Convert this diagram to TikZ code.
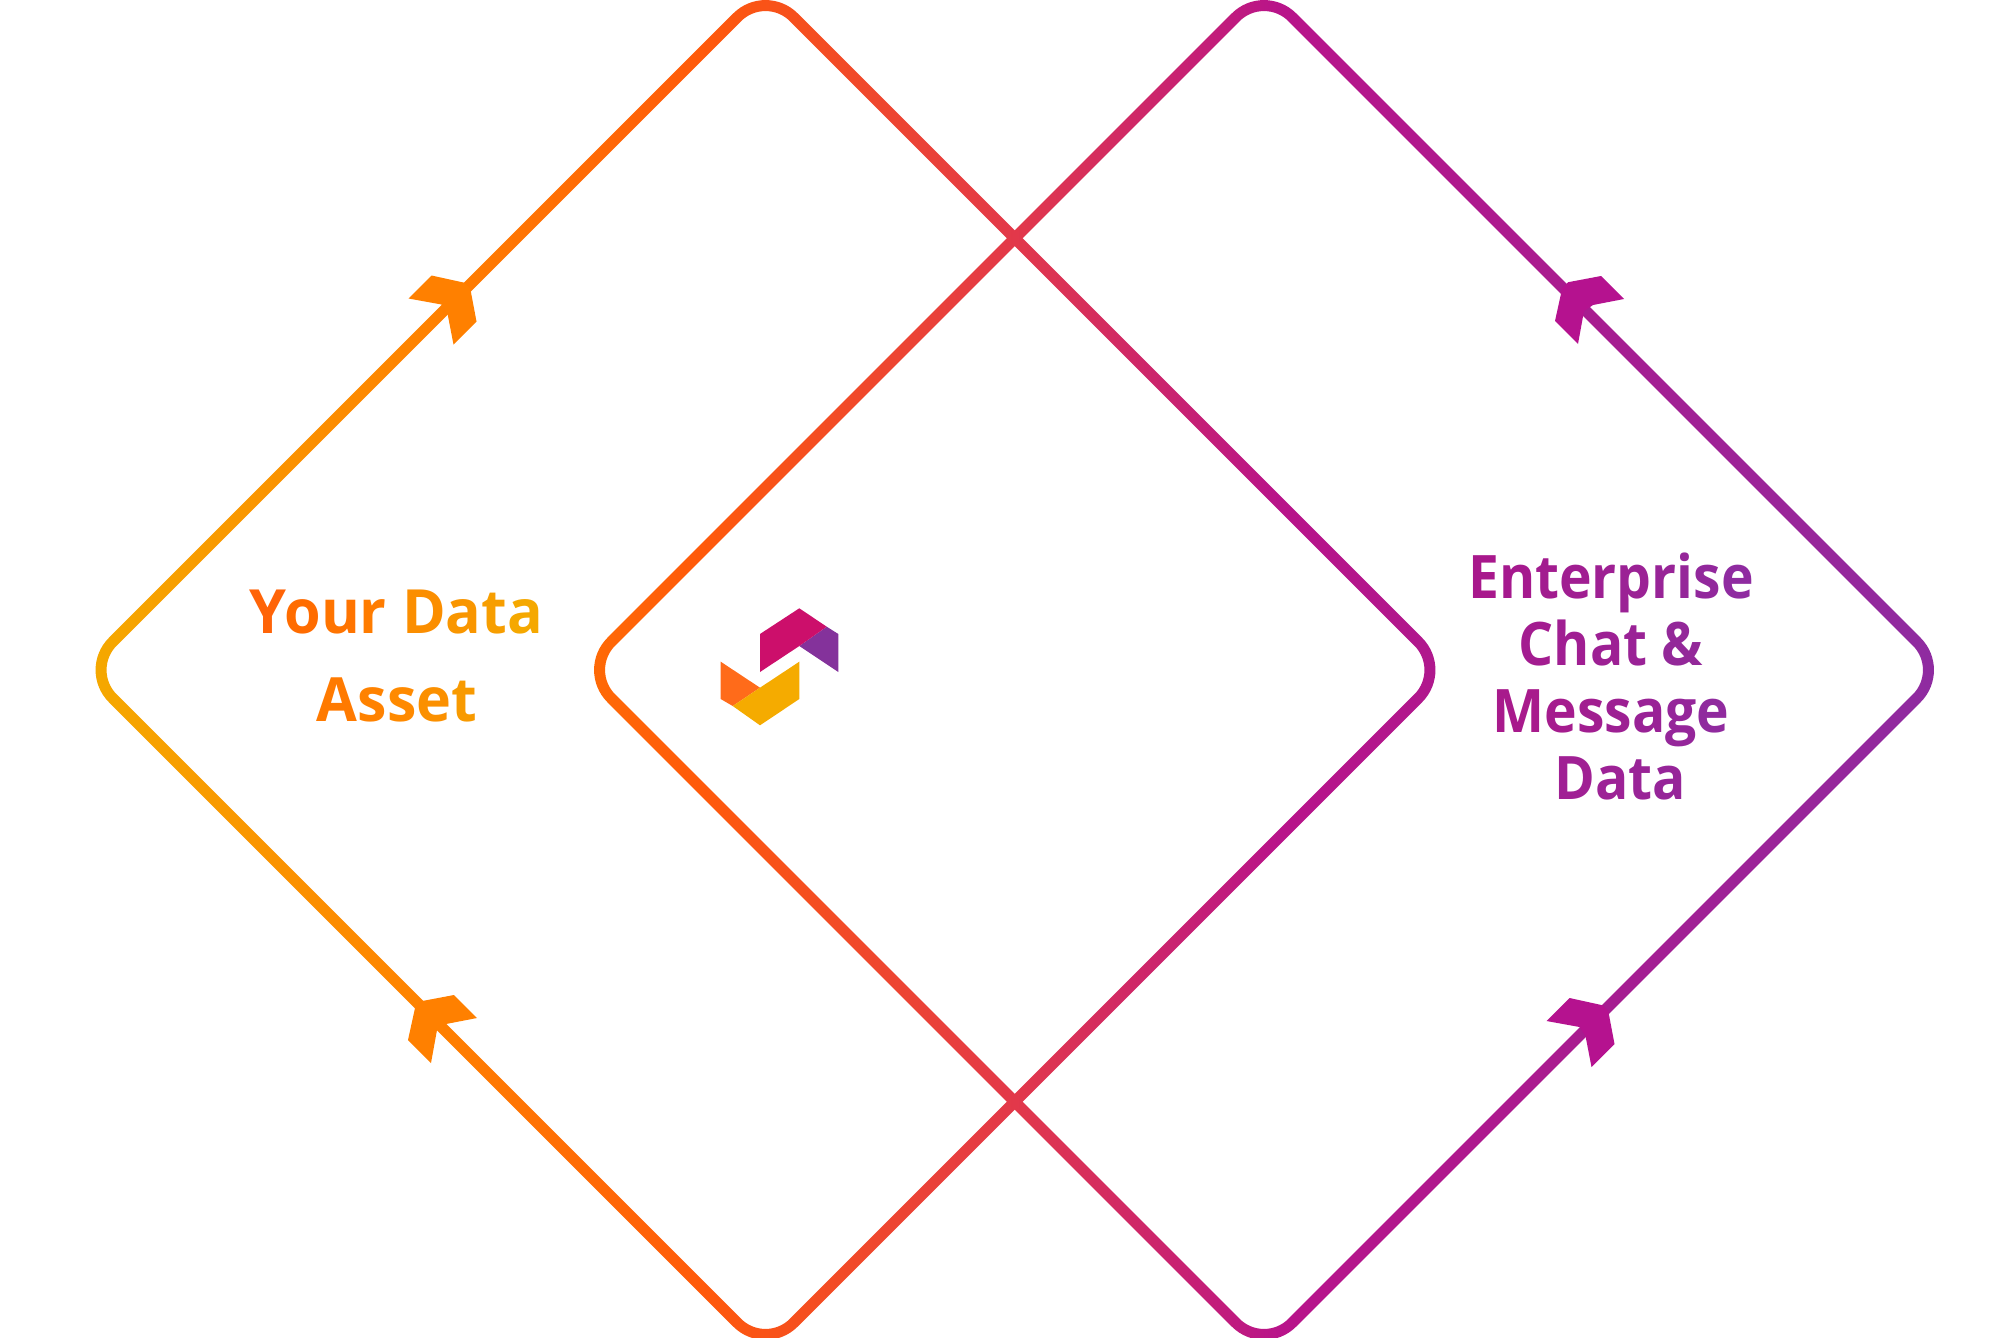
\documentclass[tikz,border=0pt]{standalone}
\usepackage{fontspec}
\setmainfont{Open Sans}[UprightFont=* Bold]
\newfontfamily\leftlabelfont{Open Sans Bold}[FakeStretch=0.97]
\newfontfamily\rightlabelfont{Open Sans Bold}[FakeStretch=0.92]
\definecolor{arrowOrange}{HTML}{FF8000}
\definecolor{arrowMagenta}{HTML}{B5128F}
\definecolor{logoPink}{HTML}{CC0F6B}
\definecolor{logoPurple}{HTML}{84329B}
\definecolor{logoOrange}{HTML}{FF6B1A}
\definecolor{logoYellow}{HTML}{F5AB00}
\definecolor{gA}{HTML}{F5A800}
\definecolor{gB}{HTML}{FF8000}
\definecolor{gC}{HTML}{FF5A0A}
\definecolor{gD}{HTML}{E2384A}
\definecolor{gE}{HTML}{B8148A}
\definecolor{gF}{HTML}{A81C90}
\definecolor{gG}{HTML}{8F2BA0}
\pgfdeclarehorizontalshading{ringgrad}{100bp}{
  color(0bp)=(gA);
  color(27.4bp)=(gA);
  color(36bp)=(gB);
  color(42.5bp)=(gC);
  color(50.4bp)=(gD);
  color(57bp)=(gE);
  color(64.8bp)=(gF);
  color(73.3bp)=(gG);
  color(100bp)=(gG)}
\newcommand{\lc}[2]{{\color[HTML]{#1}#2}}
% one closed loop: centre x, centre y, corner distance S, tangent offset a, control offset b
\newcommand{\ringloop}[5]{%
  (#1-#3+#4,#2-#4) .. controls (#1-#3+#5,#2-#5) and (#1-#3+#5,#2+#5) .. (#1-#3+#4,#2+#4)
  -- (#1-#4,#2+#3-#4) .. controls (#1-#5,#2+#3-#5) and (#1+#5,#2+#3-#5) .. (#1+#4,#2+#3-#4)
  -- (#1+#3-#4,#2+#4) .. controls (#1+#3-#5,#2+#5) and (#1+#3-#5,#2-#5) .. (#1+#3-#4,#2-#4)
  -- (#1+#4,#2-#3+#4) .. controls (#1+#5,#2-#3+#5) and (#1-#5,#2-#3+#5) .. (#1-#4,#2-#3+#4)
  -- cycle}
\tikzset{
  lbl/.style={inner sep=0pt,anchor=base,font=\fontsize{30.5}{31}\selectfont},
  lbll/.style={lbl,font=\fontsize{30.5}{31}\leftlabelfont},
  lblr/.style={lbl,font=\fontsize{30}{31}\rightlabelfont},
  pics/chevron/.style={code={
    \fill[#1] (-4.2,-1.8) -- (1.8,4.2) -- (8,37) -- (-15,60) -- (-21,29) -- (-27,20) -- (-60,14) -- (-37,-9) -- cycle;}}
}
\begin{document}
\begin{tikzpicture}[x=0.5pt,y=-0.5pt]
\useasboundingbox (0,0) rectangle (1998,1338);
\fill[white] (0,0) rectangle (1998,1338);
% left ring: outer radius 45.5, inner radius 34.5 (px)
\begin{scope}[even odd rule]
  \clip \ringloop{765.5}{670}{688.78}{32.17}{14.40} \ringloop{765.5}{670}{673.22}{24.40}{10.92};
  \shade[shading=ringgrad,shading angle=0] (0,0) rectangle (1998,1338);
\end{scope}
% right ring
\begin{scope}[even odd rule]
  \clip \ringloop{1264}{670}{688.78}{32.17}{14.40} \ringloop{1264}{670}{673.22}{24.40}{10.92};
  \shade[shading=ringgrad,shading angle=0] (0,0) rectangle (1998,1338);
\end{scope}
% arrowheads
\pic at (468.5,284.5) {chevron=arrowOrange};
\pic[rotate=90] at (417,1003) {chevron=arrowOrange};
\pic[rotate=90] at (1564,284) {chevron=arrowMagenta};
\pic at (1606.5,1007) {chevron=arrowMagenta};
% logo
\fill[logoPurple] (826.7,626.7) -- (838.3,634) -- (838.3,672) -- (799.3,646) -- cycle;
\fill[logoPink] (760,634) -- (799.3,608.3) -- (826.7,626.7) -- (799.3,646) -- (760,672) -- cycle;
\fill[logoOrange] (720.7,661.7) -- (760,687.7) -- (732.7,706) -- (720.7,699) -- cycle;
\fill[logoYellow] (760,687.7) -- (799.3,661.7) -- (799.3,699) -- (760,725.3) -- (732.7,706) -- cycle;
% labels
\node[lbll] (yourdata) at (396.5,633) {\lc{FF6408}{Y}\kern-.04em\lc{FF6C00}{o}\lc{FF7400}{u}\lc{FF7C00}{r} \lc{FB8E00}{D}\lc{F99600}{a}\lc{F79E00}{t}\lc{F5A800}{a}};
\node[lbll] (asset) at (397,721) {\lc{FF7A00}{A}\lc{FF8200}{s}\lc{FF8A00}{s}\lc{FB9000}{e}\lc{F89A00}{t}};
\node[lblr] (enterprise) at (1611,598) {\lc{A8188C}{E}\lc{A5198E}{n}\lc{A21C8F}{t}\lc{A01E91}{e}\lc{9E2093}{r}\lc{9B2295}{p}\lc{982497}{r}\lc{952699}{i}\lc{92289C}{s}\lc{8F2BA0}{e}};
\node[lblr] (chat) at (1611,665) {\lc{A31C90}{C}\lc{A01E92}{h}\lc{9D2094}{a}\lc{9A2296}{t} \lc{932899}{\&}};
\node[lblr] (message) at (1611,732) {\lc{A81A8C}{M}\lc{A51C8E}{e}\lc{A11E90}{s}\lc{9D2093}{s}\lc{992296}{a}\lc{95269A}{g}\lc{902A9E}{e}};
\node[lblr] (datalbl) at (1620,799) {\lc{A02094}{D}\lc{9D2296}{a}\lc{992497}{t}\lc{962599}{a}};
\end{tikzpicture}
\end{document}
